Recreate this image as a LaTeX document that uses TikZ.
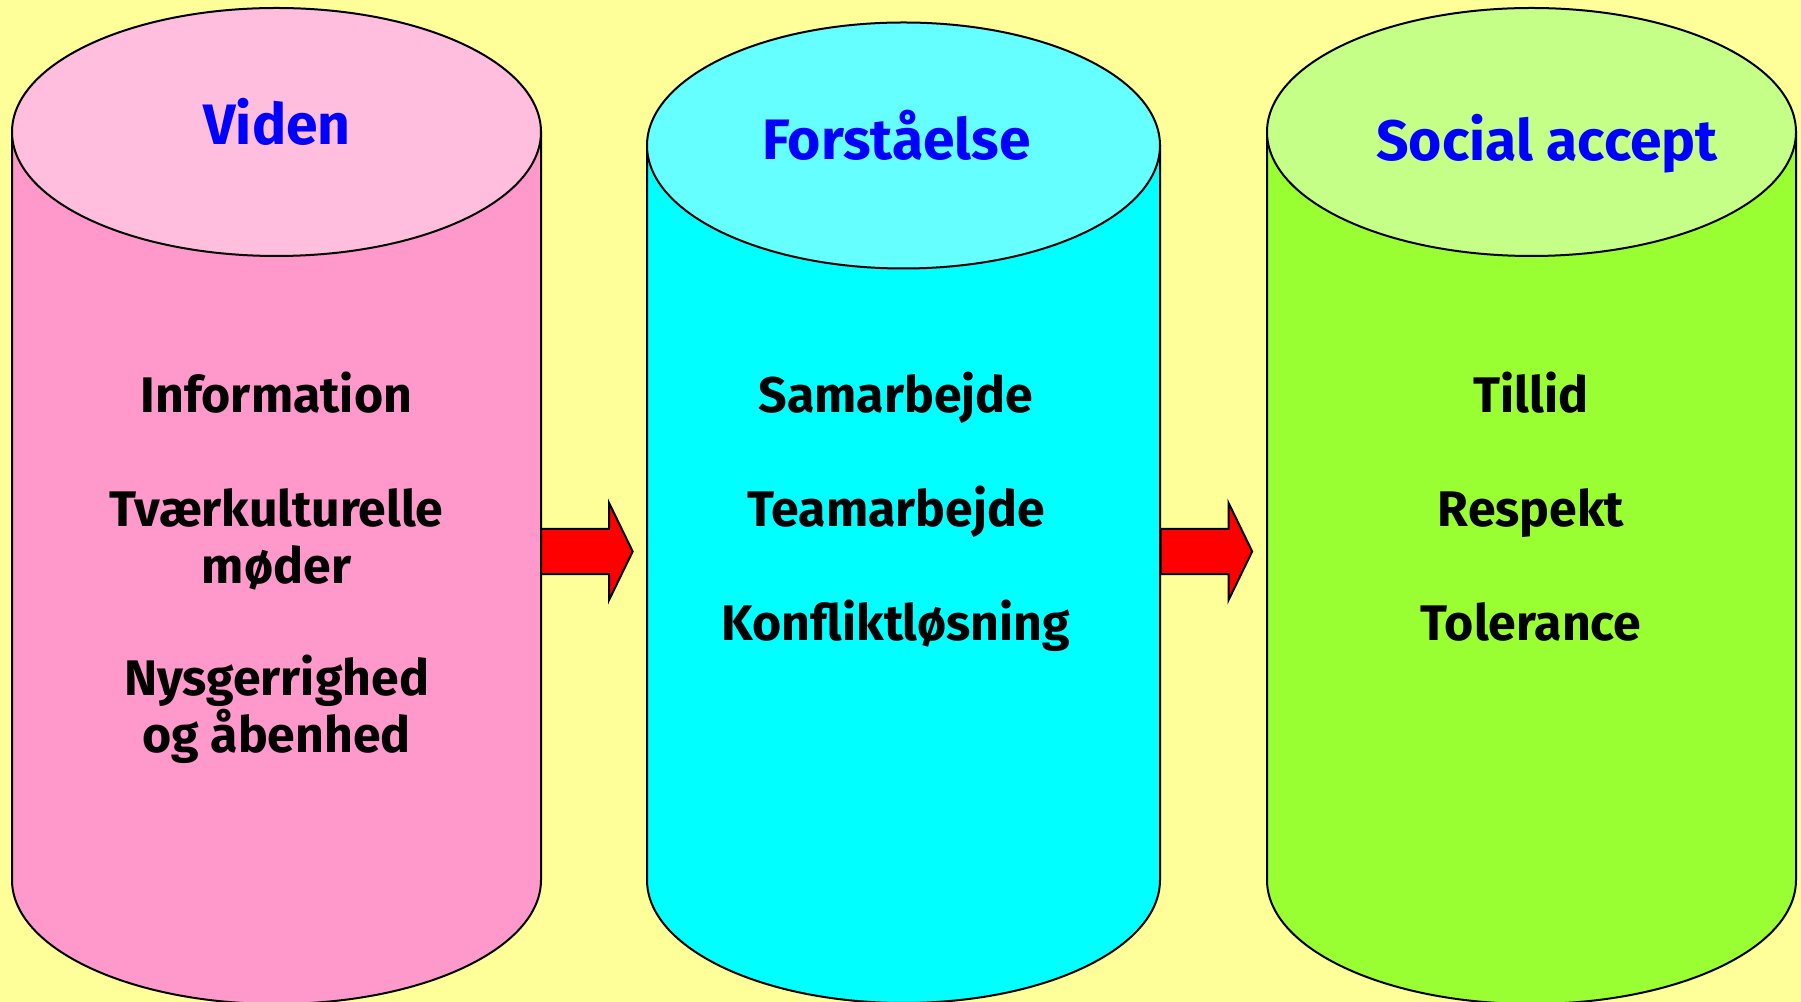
\documentclass[tikz,border=0pt]{standalone}
\usepackage{fontspec}
\setmainfont{Fira Sans}
\definecolor{bgyellow}{HTML}{FFFF99}
\definecolor{pinktop}{HTML}{FFBEDD}
\definecolor{pinkbody}{HTML}{FF99CC}
\definecolor{cyantop}{HTML}{66FFFF}
\definecolor{cyanbody}{HTML}{00FFFF}
\definecolor{greentop}{HTML}{C5FF88}
\definecolor{greenbody}{HTML}{99FF33}
\definecolor{titleblue}{HTML}{0000FF}
\begin{document}
\begin{tikzpicture}[x=0.5pt, y=0.5pt,
    drum/.style={draw=black, line width=1pt},
    title/.style={text=titleblue, font=\fontsize{28.5}{34}\selectfont\bfseries, anchor=base, inner sep=0pt},
    item/.style={font=\fontsize{25}{28.5}\selectfont\bfseries, align=center, anchor=base, inner sep=0pt},
    blockarrow/.style={draw=black, fill=red, line width=1pt, line join=miter}]
    \useasboundingbox (0,0) rectangle (1801,1002);
    \clip (0,0) rectangle (1801,1002);
    \fill[bgyellow] (0,0) rectangle (1801,1002);
    % Viden
    \filldraw[drum, fill=pinkbody] (12,870) -- (12,122) arc[start angle=180, end angle=360, x radius=264.5, y radius=124] -- (541,870) -- cycle;
    \filldraw[drum, fill=pinktop] (276.5,870) ellipse [x radius=264.5, y radius=124];
    % Forstaaelse
    \filldraw[drum, fill=cyanbody] (647,856.5) -- (647,122) arc[start angle=180, end angle=360, x radius=256.5, y radius=123] -- (1160,856.5) -- cycle;
    \filldraw[drum, fill=cyantop] (903.5,856.5) ellipse [x radius=256.5, y radius=123];
    % Social accept
    \filldraw[drum, fill=greenbody] (1267,870) -- (1267,122) arc[start angle=180, end angle=360, x radius=264.5, y radius=124] -- (1796,870) -- cycle;
    \filldraw[drum, fill=greentop] (1531.5,870) ellipse [x radius=264.5, y radius=124];
    % arrows
    \coordinate (vidend) at (541,450.5);
    \coordinate (forstaaend) at (1160.5,450.5);
    \draw[blockarrow] (vidend) ++(0,22.7) -- ++(68,0) -- ++(0,26) -- ++(23.7,-48.7) -- ++(-23.7,-48.7) -- ++(0,26) -- ++(-68,0) -- cycle;
    \draw[blockarrow] (forstaaend) ++(0,22.7) -- ++(68,0) -- ++(0,26) -- ++(23.7,-48.7) -- ++(-23.7,-48.7) -- ++(0,26) -- ++(-68,0) -- cycle;
    % titles
    \node[title] (viden) at (277,857) {Viden};
    \node[title] (forstaa) at (896.5,842) {Forståelse};
    \node[title] (social) at (1547,841.3) {Social accept};
    % items (base of a two line node is its last line)
    \node[item] (info) at (276.5,589) {Information};
    \node[item] (moder) at (276.5,418) {Tværkulturelle\\møder};
    \node[item] (nysg) at (276.5,249) {Nysgerrighed\\og åbenhed};
    \node[item] (samarb) at (896,589) {Samarbejde};
    \node[item] (teamarb) at (896,475) {Teamarbejde};
    \node[item] (konfl) at (896,361) {Konfliktløsning};
    \node[item] (tillid) at (1531,589) {Tillid};
    \node[item] (respekt) at (1531,475) {Respekt};
    \node[item] (toler) at (1531,361) {Tolerance};
\end{tikzpicture}
\end{document}
